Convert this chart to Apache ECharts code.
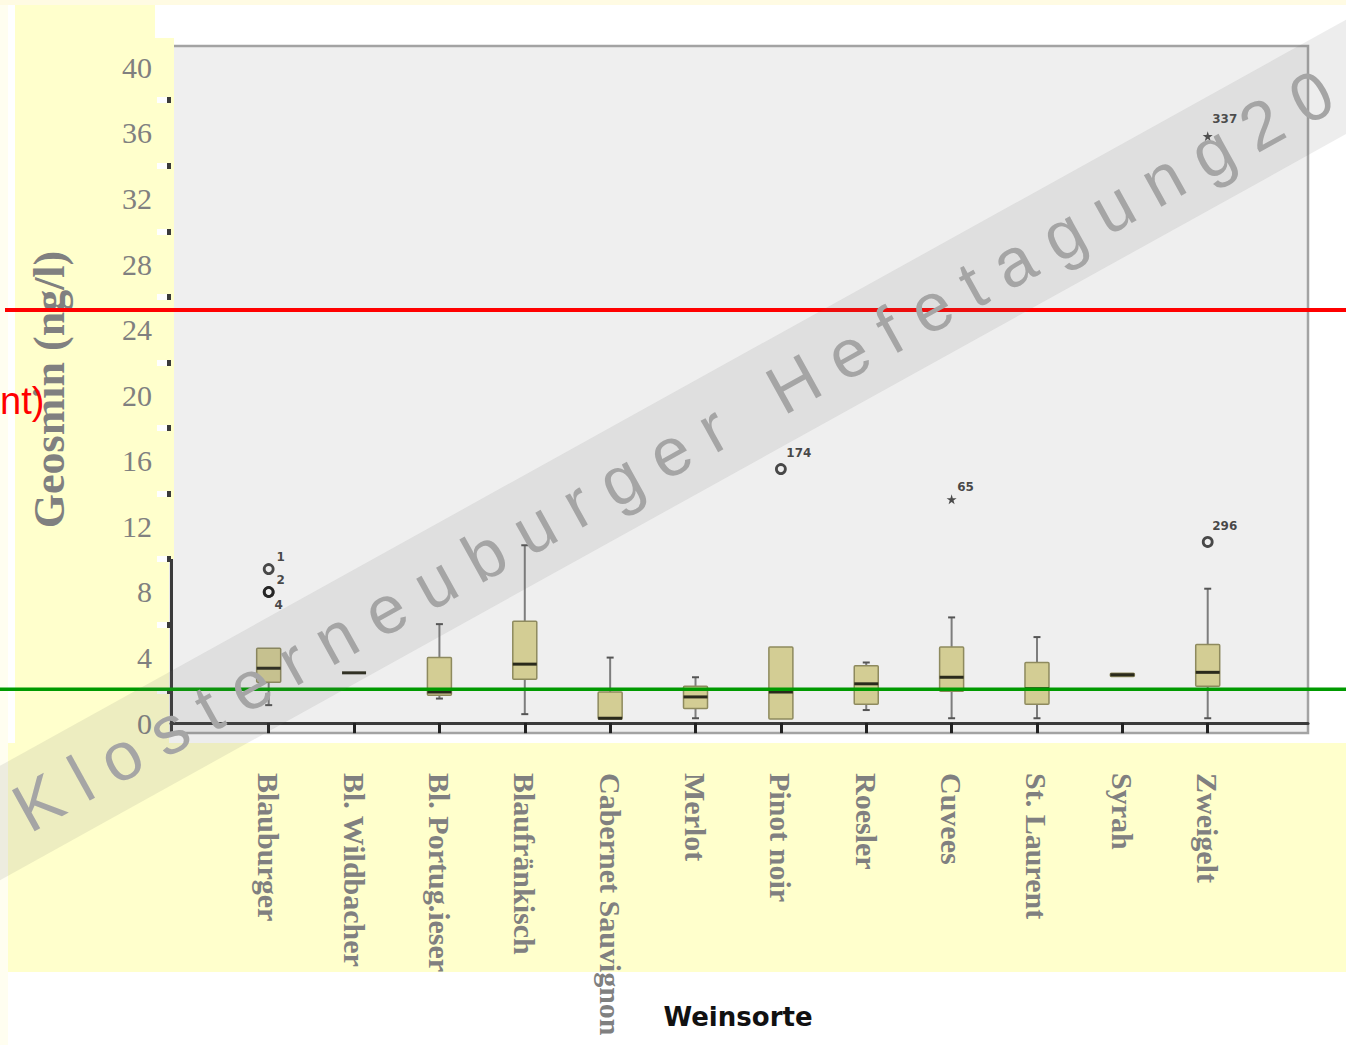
<!DOCTYPE html>
<html>
<head>
<meta charset="utf-8">
<title>Geosmin nach Weinsorte</title>
<script src="https://cdn.jsdelivr.net/npm/echarts@6/dist/echarts.min.js"></script>
<style>
html, body { margin: 0; padding: 0; background: #fff; }
#chart { width: 1346px; height: 1045px; }
</style>
</head>
<body>
<div id="chart"></div>
<script>
// Weinsorten
var categories = ['Blauburger', 'Bl. Wildbacher', 'Bl. Portug.ieser', 'Blaufränkisch', 'Cabernet Sauvignon',
  'Merlot', 'Pinot noir', 'Roesler', 'Cuvees', 'St. Laurent', 'Syrah', 'Zweigelt'];

// Boxplot-Kennwerte, Geosmin in ng/l
var whiskerLow  = [1.10, 3.07, 1.50, 0.55, 0.25, 0.30, 0.25, 0.80, 0.30, 0.30, 2.85, 0.30];
var quart1      = [2.50, 3.07, 1.70, 2.68, 0.25, 0.90, 0.25, 1.15, 1.95, 1.15, 2.85, 2.25];
var medians     = [3.35, 3.07, 1.90, 3.60, 0.30, 1.60, 1.90, 2.40, 2.80, 2.10, 2.95, 3.10];
var quart3      = [4.57, 3.07, 4.00, 6.22, 1.90, 2.25, 4.65, 3.50, 4.65, 3.70, 3.05, 4.80];
var whiskerHigh = [4.57, 3.07, 6.04, 10.85, 4.00, 2.80, 4.65, 3.70, 6.45, 5.25, 3.05, 8.20];

// Ausreisser (o) und Extremwerte (*)
var outlierCat  = [0, 0, 0, 6, 8, 11, 11];
var outlierVal  = [9.4, 8.0, 8.0, 15.5, 13.65, 11.05, 35.8];
var outlierId   = ['1', '2', '4', '174', '65', '296', '337'];
var outlierKind = ['circle', 'circle', 'circle', 'circle', 'star', 'circle', 'star'];

// Achsenbeschriftung
var yTickLabels = [0, 4, 8, 12, 16, 20, 24, 28, 32, 36, 40];
var yGapTicks = [2, 6, 10, 14, 18, 22, 26, 30, 34, 38];

// Markierungslinien
var redLevel = 25.2;
var greenLevel = 2.07;

var Y_MIN = -0.6, Y_MAX = 41.3;
var BOX_W = 24, CAP_W = 7;
var labelOffset = { '1': [12, -12], '2': [12, -12], '4': [10, 13], '174': [18, -16], '65': [14, -12], '296': [17, -16], '337': [17, -17] };
var STAR = 'path://M50,0 L61,35 L98,35 L68,57 L79,91 L50,70 L21,91 L32,57 L2,35 L39,35 Z';

var boxData = categories.map(function (c, i) {
  return [i, whiskerLow[i], quart1[i], medians[i], quart3[i], whiskerHigh[i]];
});

var outlierData = outlierVal.map(function (v, i) {
  var circle = outlierKind[i] === 'circle';
  return {
    name: outlierId[i],
    value: [outlierCat[i], v],
    symbol: circle ? 'circle' : STAR,
    symbolSize: circle ? 9 : 10,
    itemStyle: circle ? { color: 'rgba(0,0,0,0)', borderColor: '#1e1e1e', borderWidth: 2.8 } : { color: '#222', borderWidth: 0 },
    label: { offset: labelOffset[outlierId[i]] }
  };
});

var serif = 'Liberation Serif, Times New Roman, serif';

var chart = echarts.init(document.getElementById('chart'), null, { renderer: 'svg' });

var option = {
  animation: false,
  grid: [
    { left: 171, right: 38, top: 46, bottom: 312, show: true, backgroundColor: '#efefef', borderColor: '#a3a3a3', borderWidth: 2.5 },
    { left: 226, right: 95.6, top: 46, bottom: 312 }
  ],
  xAxis: [
    {
      gridIndex: 0, type: 'value', min: 0, max: 1,
      axisLine: { show: true, lineStyle: { color: '#3a3a3a', width: 3 } },
      axisTick: { show: false }, axisLabel: { show: false }, splitLine: { show: false }
    },
    {
      gridIndex: 1, type: 'category', data: categories, boundaryGap: true,
      axisLine: { show: false },
      axisTick: { show: true, alignWithLabel: true, length: 10, lineStyle: { color: '#222', width: 3 } },
      axisLabel: { interval: 0, rotate: -90, margin: 40, fontFamily: serif, fontWeight: 'bold', fontSize: 30, color: '#808080' },
      splitLine: { show: false }
    }
  ],
  yAxis: [
    {
      gridIndex: 0, type: 'value', position: 'left', offset: 0, min: Y_MIN, max: Y_MAX,
      name: 'Geosmin (ng/l)', nameLocation: 'middle', nameRotate: 90, nameGap: 100,
      nameTextStyle: { fontFamily: serif, fontWeight: 'bold', fontSize: 44, color: '#808080' },
      axisLine: { show: true, lineStyle: { color: '#3a3a3a', width: 3 } },
      axisTick: { show: false },
      axisLabel: { customValues: yTickLabels, margin: 19, fontFamily: serif, fontSize: 30, color: '#808080' },
      splitLine: { show: false }
    },
    {
      gridIndex: 0, type: 'value', position: 'left', offset: 0, min: Y_MIN, max: Y_MAX, z: 3,
      axisLine: { show: false }, axisLabel: { show: false }, splitLine: { show: false },
      axisTick: { show: true, customValues: yGapTicks, length: 14, lineStyle: { color: '#ffffff', width: 6 } }
    },
    {
      gridIndex: 0, type: 'value', position: 'left', offset: 0, min: Y_MIN, max: Y_MAX, z: 4,
      axisLine: { show: false }, axisLabel: { show: false }, splitLine: { show: false },
      axisTick: { show: true, customValues: yGapTicks, length: 4, lineStyle: { color: '#3a3a3a', width: 6 } }
    },
    {
      gridIndex: 1, type: 'value', min: Y_MIN, max: Y_MAX, show: false
    }
  ],
  series: [
    {
      type: 'custom',
      xAxisIndex: 1, yAxisIndex: 3, z: 3,
      data: boxData,
      encode: { x: 0, y: [1, 2, 3, 4, 5] },
      renderItem: function (params, api) {
        var i = api.value(0);
        var lo = api.coord([i, api.value(1)]);
        var q1 = api.coord([i, api.value(2)]);
        var md = api.coord([i, api.value(3)]);
        var q3 = api.coord([i, api.value(4)]);
        var hi = api.coord([i, api.value(5)]);
        var cx = md[0], hw = BOX_W / 2, cw = CAP_W / 2;
        var wStyle = { stroke: '#7d7d7d', lineWidth: 2 };
        var children = [];
        if (hi[1] < q3[1] - 0.5) {
          children.push({ type: 'line', shape: { x1: cx, y1: q3[1], x2: cx, y2: hi[1] }, style: wStyle });
          children.push({ type: 'line', shape: { x1: cx - cw, y1: hi[1], x2: cx + cw, y2: hi[1] }, style: { stroke: '#555', lineWidth: 2 } });
        }
        if (lo[1] > q1[1] + 0.5) {
          children.push({ type: 'line', shape: { x1: cx, y1: q1[1], x2: cx, y2: lo[1] }, style: wStyle });
          children.push({ type: 'line', shape: { x1: cx - cw, y1: lo[1], x2: cx + cw, y2: lo[1] }, style: { stroke: '#555', lineWidth: 2 } });
        }
        if (q1[1] - q3[1] > 0.5) {
          children.push({ type: 'rect', shape: { x: cx - hw, y: q3[1], width: BOX_W, height: q1[1] - q3[1], r: 1 },
            style: { fill: '#d3cd94', stroke: '#8e8a5e', lineWidth: 1.5 } });
        }
        children.push({ type: 'line', shape: { x1: cx - hw, y1: md[1], x2: cx + hw, y2: md[1] }, style: { stroke: '#2a2a1c', lineWidth: 3 } });
        return { type: 'group', children: children };
      }
    },
    {
      type: 'scatter',
      xAxisIndex: 1, yAxisIndex: 3, z: 4,
      data: outlierData,
      label: {
        show: true, position: 'inside', formatter: '{b}',
        fontFamily: 'DejaVu Sans, sans-serif', fontWeight: 'bold', fontSize: 12, color: '#1a1a1a'
      }
    }
  ]
};

chart.setOption(option);

var redY = chart.convertToPixel({ yAxisIndex: 0 }, redLevel);
var greenY = chart.convertToPixel({ yAxisIndex: 0 }, greenLevel);
var ang = 29 * Math.PI / 180;
var wmX = -60, wmY = 823 + Math.tan(ang) * 60;
var txX = 18;

chart.setOption({
  graphic: [
    // Hintergruende
    { type: 'rect', z: -5, shape: { x: 0, y: 0, width: 1346, height: 5 }, style: { fill: '#fffbe3' } },
    { type: 'rect', z: -5, shape: { x: 0, y: 5, width: 8, height: 1040 }, style: { fill: '#fffef0' } },
    { type: 'rect', z: -5, shape: { x: 15, y: 5, width: 140, height: 740 }, style: { fill: '#ffffcc' } },
    { type: 'rect', z: -5, shape: { x: 155, y: 38, width: 14, height: 707 }, style: { fill: '#ffffcc' } },
    { type: 'rect', z: -5, shape: { x: 8, y: 743, width: 1338, height: 229 }, style: { fill: '#ffffcc' } },
    { type: 'rect', z: 2, shape: { x: 155, y: 38, width: 19, height: 521 }, style: { fill: '#ffffcc' } },
    // Grenzlinien
    { type: 'line', z: 5, shape: { x1: 5, y1: redY, x2: 1346, y2: redY }, style: { stroke: '#ff0000', lineWidth: 4 } },
    { type: 'line', z: 5, shape: { x1: 0, y1: greenY, x2: 1346, y2: greenY }, style: { stroke: '#009a00', lineWidth: 3.5 } },
    { type: 'text', z: 5, x: 0, y: 401, style: { text: 'nt)', fill: '#ff0000', font: '38px "Liberation Sans", Arial, sans-serif', align: 'left', verticalAlign: 'middle' } },
    // Achsentitel
    { type: 'text', z: 5, x: 738, y: 1017, style: { text: 'Weinsorte', fill: '#111', font: 'bold 26px "DejaVu Sans", sans-serif', align: 'center', verticalAlign: 'middle' } },
    // Wasserzeichen
    { type: 'rect', z: 10, x: wmX, y: wmY, rotation: ang, shape: { x: 0, y: -50, width: 1800, height: 100 }, style: { fill: 'rgba(110,110,110,0.12)' } },
    { type: 'text', z: 11, x: txX, y: 823 - Math.tan(ang) * txX, rotation: ang,
      style: { text: 'K l o s t e r n e u b u r g e r   H e f e t a g u n g 2 0', fill: '#a5a5a5', font: '68px "Liberation Sans", Arial, sans-serif', align: 'left', verticalAlign: 'middle' } }
  ]
});
</script>
</body>
</html>
